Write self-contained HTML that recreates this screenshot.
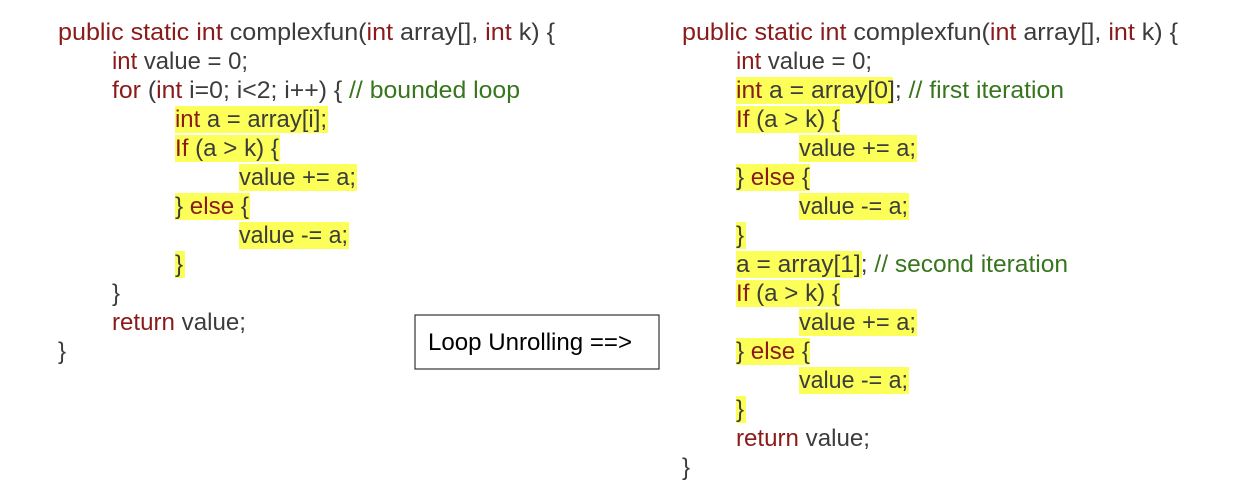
<!DOCTYPE html>
<html><head><meta charset="utf-8"><style>
html,body{margin:0;padding:0;background:#fff;width:1234px;height:504px;overflow:hidden}
svg text{font-family:"Liberation Sans",sans-serif;font-size:24px;fill:#3c3c3c}
.k{fill:#8b1a1a}.c{fill:#38761d}
</style></head><body>
<svg width="1234" height="504" xmlns="http://www.w3.org/2000/svg">
<g fill="#fcff58">
<rect x="175" y="106" width="153" height="27"/>
<rect x="175" y="135" width="105" height="27"/>
<rect x="239" y="164" width="118" height="27"/>
<rect x="175" y="193" width="75" height="27"/>
<rect x="239" y="222" width="110" height="27"/>
<rect x="175" y="251" width="10" height="27"/>
<rect x="736" y="77" width="157" height="27"/>
<rect x="736" y="106" width="104" height="27"/>
<rect x="799" y="135" width="118" height="27"/>
<rect x="736" y="164" width="74" height="27"/>
<rect x="799" y="193" width="110" height="27"/>
<rect x="736" y="222" width="10" height="27"/>
<rect x="736" y="251" width="126" height="27"/>
<rect x="736" y="280" width="104" height="27"/>
<rect x="799" y="309" width="118" height="27"/>
<rect x="736" y="338" width="74" height="27"/>
<rect x="799" y="367" width="110" height="27"/>
<rect x="736" y="396" width="10" height="27"/>
</g>
<g>
<text x="58" y="40" textLength="497" lengthAdjust="spacingAndGlyphs"><tspan class="k">public static int</tspan> complexfun(<tspan class="k">int</tspan> array[], <tspan class="k">int</tspan> k) {</text>
<text x="112" y="69" textLength="136" lengthAdjust="spacingAndGlyphs"><tspan class="k">int</tspan> value = 0;</text>
<text x="112" y="98" textLength="408" lengthAdjust="spacingAndGlyphs"><tspan class="k">for</tspan> (<tspan class="k">int</tspan> i=0; i&lt;2; i++) { <tspan class="c">// bounded loop</tspan></text>
<text x="175" y="127" textLength="152" lengthAdjust="spacingAndGlyphs"><tspan class="k">int</tspan> a = array[i];</text>
<text x="175" y="156" textLength="104" lengthAdjust="spacingAndGlyphs"><tspan class="k">If</tspan> (a &gt; k) {</text>
<text x="239" y="185" textLength="117" lengthAdjust="spacingAndGlyphs">value += a;</text>
<text x="175" y="214" textLength="74" lengthAdjust="spacingAndGlyphs">} <tspan class="k">else</tspan> {</text>
<text x="239" y="243" textLength="109" lengthAdjust="spacingAndGlyphs">value -= a;</text>
<text x="175" y="272">}</text>
<text x="112" y="301">}</text>
<text x="112" y="330" textLength="134" lengthAdjust="spacingAndGlyphs"><tspan class="k">return</tspan> value;</text>
<text x="58" y="359">}</text>

<text x="682" y="40" textLength="496" lengthAdjust="spacingAndGlyphs"><tspan class="k">public static int</tspan> complexfun(<tspan class="k">int</tspan> array[], <tspan class="k">int</tspan> k) {</text>
<text x="736" y="69" textLength="136" lengthAdjust="spacingAndGlyphs"><tspan class="k">int</tspan> value = 0;</text>
<text x="736" y="98" textLength="328" lengthAdjust="spacingAndGlyphs"><tspan class="k">int</tspan> a = array[0]; <tspan class="c">// first iteration</tspan></text>
<text x="736" y="127" textLength="104" lengthAdjust="spacingAndGlyphs"><tspan class="k">If</tspan> (a &gt; k) {</text>
<text x="799" y="156" textLength="117" lengthAdjust="spacingAndGlyphs">value += a;</text>
<text x="736" y="185" textLength="74" lengthAdjust="spacingAndGlyphs">} <tspan class="k">else</tspan> {</text>
<text x="799" y="214" textLength="109" lengthAdjust="spacingAndGlyphs">value -= a;</text>
<text x="736" y="243">}</text>
<text x="736" y="272" textLength="332" lengthAdjust="spacingAndGlyphs">a = array[1]; <tspan class="c">// second iteration</tspan></text>
<text x="736" y="301" textLength="104" lengthAdjust="spacingAndGlyphs"><tspan class="k">If</tspan> (a &gt; k) {</text>
<text x="799" y="330" textLength="117" lengthAdjust="spacingAndGlyphs">value += a;</text>
<text x="736" y="359" textLength="74" lengthAdjust="spacingAndGlyphs">} <tspan class="k">else</tspan> {</text>
<text x="799" y="388" textLength="109" lengthAdjust="spacingAndGlyphs">value -= a;</text>
<text x="736" y="417">}</text>
<text x="736" y="446" textLength="134" lengthAdjust="spacingAndGlyphs"><tspan class="k">return</tspan> value;</text>
<text x="682" y="475">}</text>
</g>
<rect x="415" y="315" width="244" height="54" fill="#fff" stroke="#333" stroke-width="1.2"/>
<text x="428" y="350" textLength="204" lengthAdjust="spacingAndGlyphs" style="fill:#000">Loop Unrolling ==&gt;</text>
</svg>
</body></html>
